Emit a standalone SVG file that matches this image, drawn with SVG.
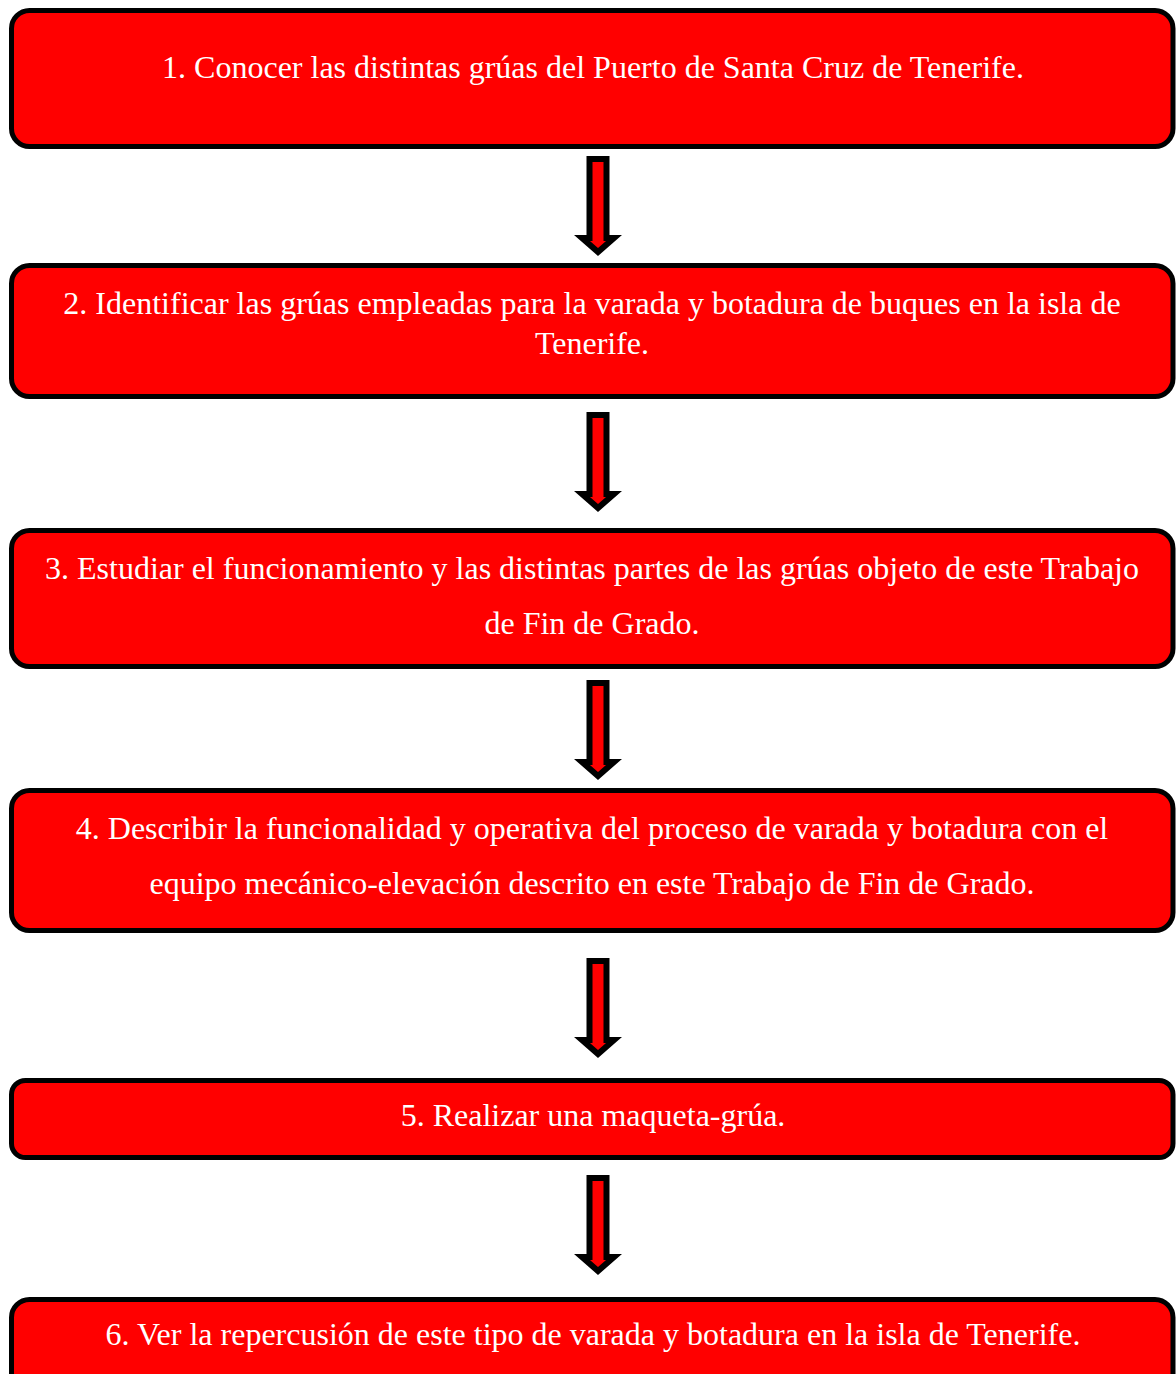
<svg xmlns="http://www.w3.org/2000/svg" width="1176" height="1374" viewBox="0 0 1176 1374">
  <style>
    .box { fill: #ff0000; stroke: #000000; stroke-width: 5; }
    .lbl { font-family: "Liberation Serif", "Times New Roman", serif; font-size: 32px; fill: #ffffff; text-anchor: middle; }
    .arrow { fill: #ff0000; stroke: #000000; stroke-width: 6; stroke-linejoin: miter; stroke-miterlimit: 10; }
  </style>
  <defs>
    <!-- block arrow pointing down, origin at its top outer edge -->
    <path id="down" d="M589.5,3 H606.5 V82 H614 L598,96 L582,82 H589.5 Z"/>
  </defs>
  <rect x="0" y="0" width="1176" height="1374" fill="#ffffff"/>

  <g id="step1">
    <rect class="box" x="11.5" y="10.5" width="1161.5" height="136" rx="18"/>
    <text class="lbl" x="593" y="78">1. Conocer las distintas grúas del Puerto de Santa Cruz de Tenerife.</text>
  </g>
  <g id="step2">
    <rect class="box" x="11.5" y="265.5" width="1161.5" height="131" rx="18"/>
    <text class="lbl" x="592" y="314">2. Identificar las grúas empleadas para la varada y botadura de buques en la isla de</text>
    <text class="lbl" x="592" y="354">Tenerife.</text>
  </g>
  <g id="step3">
    <rect class="box" x="11.5" y="530.5" width="1161.5" height="136" rx="18"/>
    <text class="lbl" x="592" y="579">3. Estudiar el funcionamiento y las distintas partes de las grúas objeto de este Trabajo</text>
    <text class="lbl" x="592" y="634">de Fin de Grado.</text>
  </g>
  <g id="step4">
    <rect class="box" x="11.5" y="790.5" width="1161.5" height="140" rx="18"/>
    <text class="lbl" x="592" y="839">4. Describir la funcionalidad y operativa del proceso de varada y botadura con el</text>
    <text class="lbl" x="592" y="894">equipo mecánico-elevación descrito en este Trabajo de Fin de Grado.</text>
  </g>
  <g id="step5">
    <rect class="box" x="11.5" y="1080.5" width="1161.5" height="77" rx="14"/>
    <text class="lbl" x="593" y="1126">5. Realizar una maqueta-grúa.</text>
  </g>
  <g id="step6">
    <rect class="box" x="11.5" y="1299.5" width="1161.5" height="120" rx="18"/>
    <text class="lbl" x="593" y="1345">6. Ver la repercusión de este tipo de varada y botadura en la isla de Tenerife.</text>
  </g>

  <g id="connectors">
    <use href="#down" class="arrow" transform="translate(0,156)"/>
    <use href="#down" class="arrow" transform="translate(0,412)"/>
    <use href="#down" class="arrow" transform="translate(0,680)"/>
    <use href="#down" class="arrow" transform="translate(0,958)"/>
    <use href="#down" class="arrow" transform="translate(0,1175)"/>
  </g>
</svg>
